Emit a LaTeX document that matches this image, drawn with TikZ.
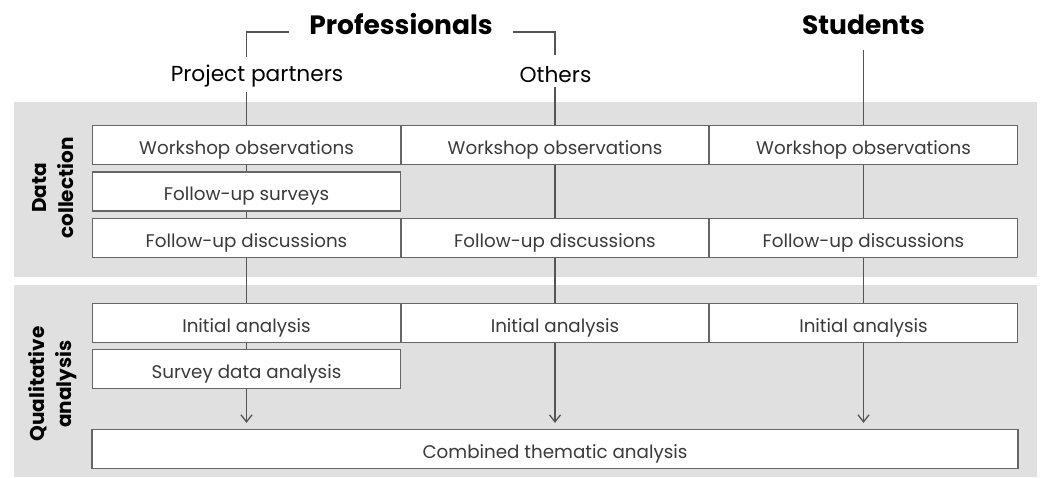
\documentclass[tikz,border=0pt]{standalone}
\usepackage{fontspec}
\setmainfont{Poppins}
\usetikzlibrary{arrows.meta}
\definecolor{panelgray}{HTML}{E0E0E0}
\definecolor{edgegray}{HTML}{666666}
\definecolor{linegray}{HTML}{555555}
\definecolor{txtgray}{HTML}{3A3A3A}
\begin{document}
\begin{tikzpicture}[x=1pt,y=-1pt,
  panel/.style={fill=panelgray, draw=none},
  cell/.style={draw=edgegray, line width=1.2pt, fill=white, minimum width=308pt,
    minimum height=39pt, inner sep=0pt, text height=19pt, text depth=0pt,
    text=txtgray, font=\fontsize{18.3}{20}\selectfont},
  link/.style={draw=linegray, line width=1.3pt},
  arrowlink/.style={link, -{Straight Barb[length=7pt,width=11pt]}, shorten >=6pt},
  head/.style={font=\bfseries\fontsize{26.5}{30}\selectfont, text=black, inner sep=4pt},
  sub/.style={font=\fontsize{21.7}{24}\selectfont, text=black, inner sep=4pt},
  side/.style={font=\bfseries\fontsize{20}{27}\selectfont, text=black, align=center, rotate=90}
]
\useasboundingbox (0,0) rectangle (1041,478);
% panels
\fill[panel] (14,102) rectangle (1037,277);
\fill[panel] (14,285) rectangle (1037,477);
% side labels
\node[side] (dc) at (53,188) {Data\\collection};
\node[side] (qa) at (53,384) {Qualitative\\analysis};
% headers
\node[head, anchor=base] (prof) at (401,35) {Professionals};
\node[head, anchor=base] (stu) at (863.5,35) {Students};
\node[sub, anchor=base] (pp) at (257,82) {Project partners};
\node[sub, anchor=base] (oth) at (555.5,83) {Others};
% cells
\node[cell] (w1) at (246.5,145) {Workshop observations};
\node[cell] (w2) at (555,145) {Workshop observations};
\node[cell] (w3) at (863.5,145) {Workshop observations};
\node[cell] (s1) at (246.5,191.5) {Follow-up surveys};
\node[cell] (d1) at (246.5,238) {Follow-up discussions};
\node[cell] (d2) at (555,238) {Follow-up discussions};
\node[cell] (d3) at (863.5,238) {Follow-up discussions};
\node[cell] (i1) at (246.5,323) {Initial analysis};
\node[cell] (i2) at (555,323) {Initial analysis};
\node[cell] (i3) at (863.5,323) {Initial analysis};
\node[cell] (sa1) at (246.5,369) {Survey data analysis};
\node[cell, minimum width=926pt] (comb) at (555,449) {Combined thematic analysis};
% bracket coordinates
\coordinate (ppTop) at (246.5,57);
\coordinate (othTop) at (555,55);
\coordinate (bl) at (289,32);
\coordinate (br) at (513,32);
\coordinate (stuLow) at (863.5,50);
% header connectors
\draw[link] (ppTop) |- (bl);
\draw[link] (br) -| (othTop);
\draw[link] (w1.north |- pp.south) -- (w1.north);
\draw[link] (w2.north |- oth.south) -- (w2.north);
\draw[link] (stuLow) -- (w3.north);
% column 1
\draw[link] (w1) -- (s1);
\draw[link] (s1) -- (d1);
\draw[link] (d1) -- (i1);
\draw[link] (i1) -- (sa1);
\draw[arrowlink] (sa1.south) -- (sa1.south |- comb.north);
% column 2
\draw[link] (w2) -- (d2);
\draw[link] (d2) -- (i2);
\draw[arrowlink] (i2.south) -- (i2.south |- comb.north);
% column 3
\draw[link] (w3) -- (d3);
\draw[link] (d3) -- (i3);
\draw[arrowlink] (i3.south) -- (i3.south |- comb.north);
\end{tikzpicture}
\end{document}
